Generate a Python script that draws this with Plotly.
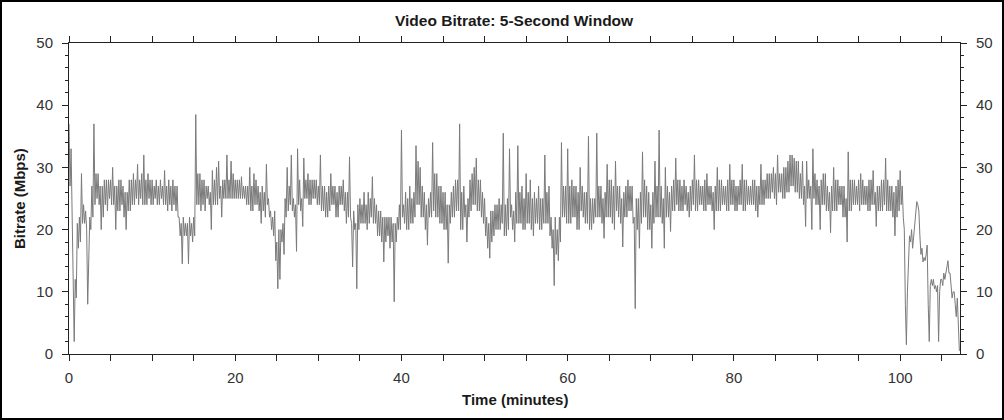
import numpy as np
import plotly.graph_objects as go

# Sample spacing of the read-off values (minutes)
STEP_MIN = 0.125

# Bitrate (Mbps), one value per 0.125 minute, grouped by 10-minute block
bitrate_00_10 = [37, 27, 33, 20, 8, 2, 12, 9, 21, 17, 22, 18, 29, 21, 24, 21, 23, 20, 8, 15,
                 22, 20, 27, 22, 37, 24, 29, 25, 29, 24, 27, 20, 27, 22, 28, 24, 28, 23, 28, 25,
                 28, 24, 30, 24, 27, 20, 27, 23, 28, 23, 28, 24, 27, 22, 26, 20, 26, 23, 28, 23,
                 28, 24, 29, 24, 28, 25, 30.5, 24, 28, 25, 29, 24, 32, 24, 28, 24, 29, 25, 28, 24]
bitrate_10_20 = [28, 24, 27, 25, 28, 24, 27, 24, 28, 25, 27, 24, 29.5, 24, 27, 23, 28, 24, 27, 23,
                 28, 24, 27, 23, 27, 22, 22, 19, 21, 14.5, 22, 19, 21, 19, 21, 14.5, 22, 19, 21, 18,
                 22, 19, 38.5, 24, 29, 24, 29, 23, 28, 24, 28, 23, 27, 25, 27, 24, 26, 20, 29.5, 24,
                 28, 24, 30, 24, 31, 25, 27, 22, 28, 25, 28, 25, 32, 25, 28, 25, 31, 25, 29, 25]
bitrate_20_30 = [28, 25, 28, 25, 28, 25, 28.5, 25, 27, 25, 27, 24, 27, 24, 30, 23, 27, 23, 29, 24,
                 28, 24, 27, 23, 26, 21, 27, 23, 26, 22, 30.5, 24, 25, 22, 23, 20, 22, 19, 23, 15,
                 18, 10.5, 20, 12, 20, 18, 21, 16, 25, 22, 30, 23, 27, 24, 32, 23, 25, 22, 24, 16.5,
                 33, 24, 28, 23, 25, 20.5, 31.5, 25, 28, 25, 29, 24, 28, 24, 28, 25, 28, 25, 28, 24]
bitrate_30_40 = [27, 24, 32, 23, 27, 23, 27, 22, 26, 22, 27, 23, 29, 24, 27, 24, 27, 22, 26, 22,
                 27, 24, 27, 24, 28, 23, 26, 21, 26, 22, 31.7, 22, 21, 14, 23, 20, 21, 10.5, 24, 20,
                 25, 21, 24, 21, 26, 21, 24, 20, 26, 21, 25, 22, 28.5, 21, 25, 21, 24, 19, 23, 19,
                 23, 18, 22, 14.8, 22, 18, 22, 19, 22, 17, 22, 18, 21, 8.4, 21, 18, 22, 20, 24, 20]
bitrate_40_50 = [36, 22, 24, 21, 26, 20, 25, 20, 27, 21, 25, 21, 26, 22, 33.5, 24, 31, 24, 30, 22,
                 27, 22, 26, 20, 24, 17.5, 25, 22, 26, 22, 34, 23, 29, 22, 29, 22, 27, 21, 27, 21,
                 26, 20, 26, 20, 24, 14.6, 24, 21, 26, 22, 27, 22, 28, 23, 28, 23, 37, 20, 26, 20,
                 27, 22, 24, 18, 25, 22, 28, 23, 29, 24, 30, 24, 31.5, 23, 28, 23, 28, 22, 26, 21]
bitrate_50_60 = [25, 19, 22, 17, 21, 15.4, 23, 18, 23, 19, 24, 20, 24, 20, 25, 20, 24, 21, 35.5, 19,
                 24, 19, 25, 20, 33, 22, 24, 20, 23, 18, 26, 21, 33.5, 21, 26, 21, 27, 20, 25, 20,
                 29, 21, 26, 21, 28, 20, 25, 19, 26, 21, 25, 21, 27, 20, 25, 20, 25, 21, 32, 21,
                 26, 21, 27, 19, 22, 17, 20, 11, 22, 16, 20, 15, 22, 18, 34, 22, 27, 22, 27, 21]
bitrate_60_70 = [33, 21, 27, 21, 28, 22, 27, 22, 27, 20, 26, 20, 30, 23, 27, 22, 26, 21, 26, 21,
                 35, 20, 25, 20, 25, 21, 25, 22, 35.5, 22, 27, 22, 27, 21, 25, 18.6, 26, 22, 30.5, 22,
                 28, 22, 28, 21, 27, 20, 31, 23, 27, 22, 27, 21, 25, 17.2, 26, 22, 27, 22, 28, 23,
                 27, 23, 27, 21, 22, 7.3, 25, 20, 25, 17, 26, 21, 32.5, 22, 28, 22, 27, 20, 26, 20]
bitrate_70_80 = [24, 17, 26, 21, 31, 22, 27, 22, 36, 22, 27, 21, 25, 17, 30, 22, 27, 22, 26, 19.7,
                 27, 23, 28, 23, 31.5, 24, 28, 23, 28, 23, 27, 23, 28, 24, 27, 23, 26, 22, 27, 23,
                 28, 24, 32, 23, 28, 23, 28, 24, 27, 24, 27, 23, 28, 23, 29, 24, 27, 24, 27, 23,
                 26, 20, 27, 23, 30, 23, 28, 23, 28, 24, 27, 24, 27, 23, 28, 23, 30.5, 24, 28, 24]
bitrate_80_90 = [28, 23, 27, 23, 27, 24, 28, 24, 30.5, 23, 28, 23, 28, 24, 27, 24, 27, 24, 28, 24,
                 28, 23, 27, 22, 27, 24, 30.5, 24, 28, 24, 28, 25, 29, 25, 29, 25, 29, 26, 30, 25,
                 29, 24, 32, 26, 29, 26, 29, 25, 30, 25, 30, 26, 31, 26, 32, 27, 32, 27, 31.5, 26,
                 31, 26, 31, 25, 29, 25, 31, 24, 27, 20.5, 31, 25, 28, 25, 27, 20, 33, 25, 29, 24]
bitrate_90_100 = [28, 24, 27, 20, 28, 24, 29, 24, 29, 23, 27, 23, 26, 19.5, 27, 23, 30, 23, 28, 23,
                  28, 24, 27, 24, 27, 22, 27, 22, 25, 18, 32.5, 23, 28, 23, 28, 24, 28, 24, 27, 24,
                  28, 23, 29, 24, 28, 24, 27, 24, 27, 23, 28, 23, 28, 24, 29.5, 24, 26, 20.5, 27, 23,
                  27, 23, 28, 23, 28, 24, 31.5, 23, 28, 23, 27, 23, 27, 22, 26, 19, 27, 22, 28, 23]
bitrate_100_end = [29.5, 24, 27, 22, 20, 8, 1.5, 10, 17, 19, 18, 20, 17, 19, 20, 22,
                   24.5, 24, 23, 19, 16, 17, 14.8, 15.5, 15, 16, 17.5, 8, 2, 11, 12, 11,
                   12, 10.5, 11, 10, 11, 2, 10, 12, 12, 11, 13, 12, 13.5, 14, 15, 13,
                   13, 11, 9, 10, 10, 8, 6, 9, 5, 0.5]

bitrate = (bitrate_00_10 + bitrate_10_20 + bitrate_20_30 + bitrate_30_40 +
           bitrate_40_50 + bitrate_50_60 + bitrate_60_70 + bitrate_70_80 +
           bitrate_80_90 + bitrate_90_100 + bitrate_100_end)
time_min = np.arange(len(bitrate)) * STEP_MIN

X_MAX = 107.2
Y_MAX = 50
x_major = [0, 20, 40, 60, 80, 100]
y_major = [0, 10, 20, 30, 40, 50]

TITLE = "Video Bitrate: 5-Second Window"
X_TITLE = "Time (minutes)"
Y_TITLE = "Bitrate (Mbps)"

W, H = 1004, 420
ML, MR, MT, MB = 69, 44, 43, 66
PW, PH = W - ML - MR, H - MT - MB


def px_x(p):
    return (p - ML) / PW


def px_y(p):
    return (H - MB - p) / PH


FONT = "Liberation Sans, Arial, sans-serif"
AX = "#222222"
TICKFONT = dict(size=15, color="#333333", family=FONT)


def axis_common():
    return dict(showgrid=False, zeroline=False, showline=True, linecolor=AX,
                linewidth=1, ticks="outside", ticklen=6, tickcolor=AX,
                tickfont=TICKFONT, automargin=False)


fig = go.Figure()
fig.add_trace(go.Scatter(x=time_min, y=bitrate, mode="lines",
                         line=dict(color="#7a7a7a", width=1),
                         hoverinfo="skip", showlegend=False))
fig.add_trace(go.Scatter(x=time_min, y=bitrate, mode="lines", yaxis="y2",
                         line=dict(color="rgba(0,0,0,0)", width=0),
                         hoverinfo="skip", showlegend=False))

fig.update_layout(
    width=W, height=H,
    margin=dict(l=ML, r=MR, t=MT, b=MB, autoexpand=False),
    paper_bgcolor="white", plot_bgcolor="white",
    font=dict(family=FONT, color="#333333", size=14),
    xaxis=dict(range=[0, X_MAX], tickvals=x_major, mirror="allticks",
               minor=dict(dtick=5, ticks="outside", ticklen=3, tickcolor=AX),
               ticklabelstandoff=4, **axis_common()),
    yaxis=dict(range=[0, Y_MAX], tickvals=y_major,
               minor=dict(dtick=2, ticks="outside", ticklen=3, tickcolor=AX),
               ticklabelstandoff=6, **axis_common()),
    yaxis2=dict(range=[0, Y_MAX], tickvals=y_major, overlaying="y", side="right",
                minor=dict(dtick=2, ticks="outside", ticklen=3, tickcolor=AX),
                ticklabelstandoff=6, **axis_common()),
)

TEXT_FONT = dict(family=FONT, size=15.5, color="#1a1a1a")
fig.add_annotation(text="<b>" + TITLE + "</b>", xref="paper", yref="paper",
                   x=0.5, y=px_y(20), xanchor="center", yanchor="middle",
                   showarrow=False, font=TEXT_FONT)
fig.add_annotation(text="<b>" + X_TITLE + "</b>", xref="paper", yref="paper",
                   x=0.5, y=px_y(399), xanchor="center", yanchor="middle",
                   showarrow=False, font=dict(TEXT_FONT, size=15))
fig.add_annotation(text="<b>" + Y_TITLE + "</b>", xref="paper", yref="paper",
                   x=px_x(19), y=px_y(199), xanchor="center", yanchor="middle",
                   textangle=-90, showarrow=False, font=dict(TEXT_FONT, size=15))

# outer image border
fig.add_shape(type="rect", xref="paper", yref="paper", layer="above",
              x0=px_x(1), x1=px_x(W - 1), y0=px_y(H - 1), y1=px_y(1),
              line=dict(color="#000000", width=2), fillcolor="rgba(0,0,0,0)")

fig.write_html(
    "out.html",
    config={"displayModeBar": False},
    post_script="document.body.style.margin='0';document.body.style.overflow='hidden';",
)
